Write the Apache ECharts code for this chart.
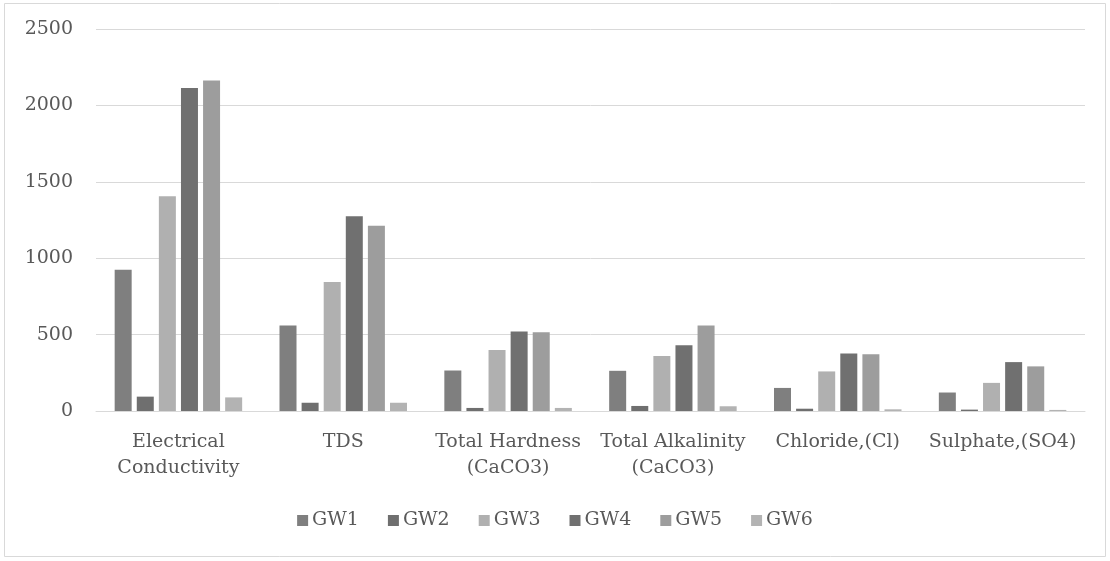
<!DOCTYPE html>
<html><head><meta charset="utf-8">
<script src="https://cdn.jsdelivr.net/npm/echarts@6/dist/echarts.min.js"></script>
<style>html,body{margin:0;padding:0;background:#fff}#c{width:1110px;height:561px}</style>
</head><body><div id="c"></div>
<script>
const categories = ['Electrical\nConductivity','TDS','Total Hardness\n(CaCO3)','Total Alkalinity\n(CaCO3)','Chloride,(Cl)','Sulphate,(SO4)'];
const seriesNames = ['GW1','GW2','GW3','GW4','GW5','GW6'];
const GW1 = [925, 560, 265, 263, 151, 121];
const GW2 = [94, 54, 20, 33, 15, 9];
const GW3 = [1405, 845, 399, 360, 259, 184];
const GW4 = [2114, 1274, 520, 430, 377, 320];
const GW5 = [2163, 1212, 515, 559, 371, 292];
const GW6 = [89, 54, 20, 31, 11, 7];
const yTicks = [0, 500, 1000, 1500, 2000, 2500];
const colors = ['#7f7f7f','#6f6f6f','#b0b0b0','#707070','#9d9d9d','#b3b3b3'];
const allData = [GW1, GW2, GW3, GW4, GW5, GW6];
const font = 'DejaVu Serif';
const chart = echarts.init(document.getElementById('c'));
chart.setOption({
  animation: false,
  color: colors,
  graphic: [{type:'rect', shape:{x:4.5,y:3.5,width:1101,height:553}, style:{fill:'none',stroke:'#d9d9d9',lineWidth:1}}],
  grid: {left: 96, right: 25, top: 29, bottom: 150},
  legend: {
    bottom: 26, left: 'center', itemWidth: 11, itemHeight: 11, itemGap: 29,
    icon: 'rect',
    textStyle: {fontFamily: font, fontSize: 19, color: '#595959', padding:[0,0,0,-1]},
    data: seriesNames
  },
  xAxis: {
    type: 'category', data: categories,
    axisLine: {lineStyle: {color: '#d9d9d9', width: 1}},
    axisTick: {show: false},
    axisLabel: {fontFamily: font, fontSize: 19, color: '#595959', margin: 18, lineHeight: 26, interval: 0}
  },
  yAxis: {
    type: 'value', min: yTicks[0], max: yTicks[yTicks.length-1], interval: 500,
    axisLine: {show: false}, axisTick: {show: false},
    splitLine: {lineStyle: {color: '#d9d9d9', width: 1}},
    axisLabel: {fontFamily: font, fontSize: 19, color: '#595959', margin: 23, formatter: v => String(v)}
  },
  series: seriesNames.map((n, i) => ({
    name: n, type: 'bar', data: allData[i], barWidth: 17, barGap: '30%'
  }))
});
</script></body></html>
